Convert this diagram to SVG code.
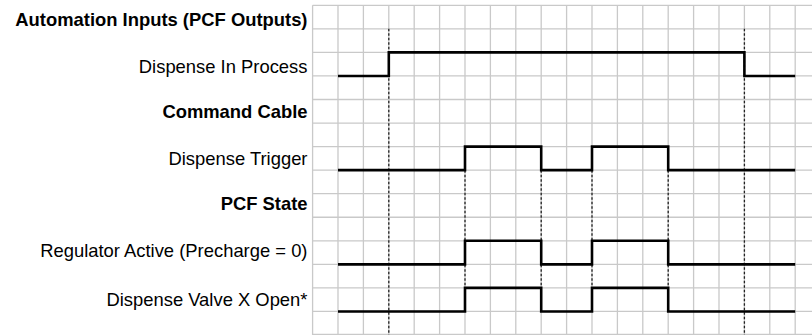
<svg xmlns="http://www.w3.org/2000/svg" width="812" height="335" viewBox="0 0 812 335">
<style>
.grid{stroke:#c9c9c9;stroke-width:1.3;fill:none}
.lbl{font-family:"Liberation Sans",Arial,Helvetica,sans-serif;font-size:18.4px;fill:#000;text-anchor:end}
.hdr{font-weight:bold}
.sig{stroke:#000;stroke-width:2.6;fill:none;stroke-linejoin:miter;stroke-linecap:butt}
.dot{stroke:#222;stroke-width:1.3;stroke-dasharray:2.5 2;fill:none}
</style>
<rect width="812" height="335" fill="#fff"/>
<g id="grid">
<path class="grid" d="M312.6 5.3V335M338 5.3V335M363.4 5.3V335M388.8 5.3V335M414.2 5.3V335M439.6 5.3V335M465 5.3V335M490.4 5.3V335M515.8 5.3V335M541.2 5.3V335M566.6 5.3V335M592 5.3V335M617.4 5.3V335M642.8 5.3V335M668.2 5.3V335M693.6 5.3V335M719 5.3V335M744.4 5.3V335M769.8 5.3V335M795.2 5.3V335"/>
<path class="grid" d="M312.6 5.3H812M312.6 28.85H812M312.6 52.4H812M312.6 75.95H812M312.6 99.5H812M312.6 123.05H812M312.6 146.6H812M312.6 170.15H812M312.6 193.7H812M312.6 217.25H812M312.6 240.8H812M312.6 264.35H812M312.6 287.9H812M312.6 311.45H812M312.6 334.5H812"/>
</g>
<g id="connectors">
<path class="dot" d="M388.8 28.85V335M744.4 28.85V335"/>
<path class="dot" d="M465 170.15V287.9M541.2 170.15V287.9M592 170.15V287.9M668.2 170.15V287.9"/>
</g>
<g id="hdr-automation"><text class="lbl hdr" x="307.5" y="26.3">Automation Inputs (PCF Outputs)</text></g>
<g id="sig-dispense-in-process">
<text class="lbl" x="307.5" y="73.4">Dispense In Process</text>
<path class="sig" d="M338 75.95H388.8V52.4H744.4V75.95H795.2"/>
</g>
<g id="hdr-command-cable"><text class="lbl hdr" x="307.5" y="118">Command Cable</text></g>
<g id="sig-dispense-trigger">
<text class="lbl" x="307.5" y="164.5">Dispense Trigger</text>
<path class="sig" d="M338 170.15H465V146.6H541.2V170.15H592V146.6H668.2V170.15H795.2"/>
</g>
<g id="hdr-pcf-state"><text class="lbl hdr" x="307.5" y="210.3">PCF State</text></g>
<g id="sig-regulator-active">
<text class="lbl" x="307.5" y="257">Regulator Active (Precharge = 0)</text>
<path class="sig" d="M338 264.35H465V240.8H541.2V264.35H592V240.8H668.2V264.35H795.2"/>
</g>
<g id="sig-dispense-valve">
<text class="lbl" x="307.5" y="305.5">Dispense Valve X Open*</text>
<path class="sig" d="M338 311.45H465V287.9H541.2V311.45H592V287.9H668.2V311.45H795.2"/>
</g>
</svg>
